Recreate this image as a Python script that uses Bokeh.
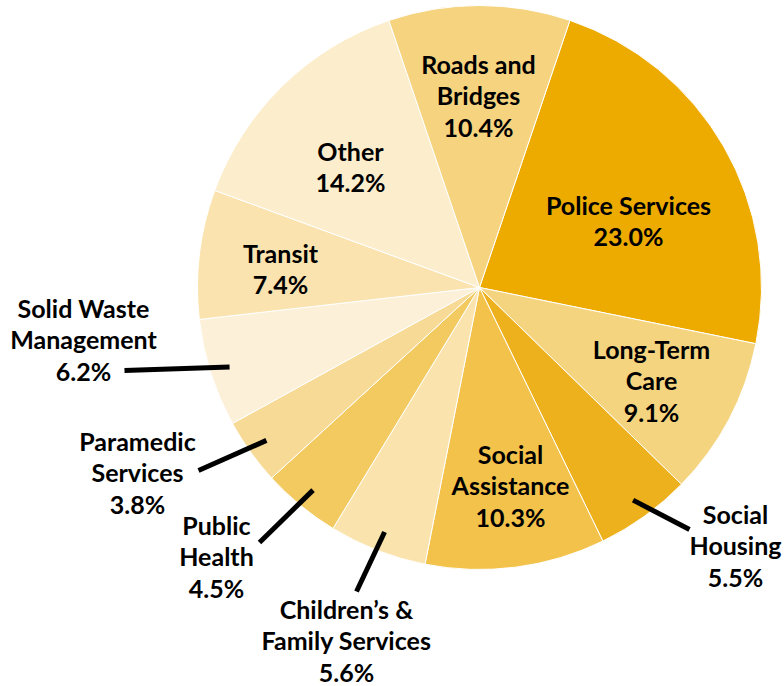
import numpy as np
from bokeh.plotting import figure
from bokeh.models import ColumnDataSource, Range1d
from bokeh.core.properties import value
from bokeh.embed import file_html
from bokeh.resources import INLINE

# ---- data ----
categories = ["Police Services", "Long-Term Care", "Social Housing", "Social Assistance",
              "Children\u2019s & Family Services", "Public Health", "Paramedic Services",
              "Solid Waste Management", "Transit", "Other", "Roads and Bridges"]
shares = [23.0, 9.1, 5.5, 10.3, 5.6, 4.5, 3.8, 6.2, 7.4, 14.2, 10.4]
label_lines = ["Police Services", "Long-Term\nCare", "Social\nHousing", "Social\nAssistance",
               "Children\u2019s &\nFamily Services", "Public\nHealth", "Paramedic\nServices",
               "Solid Waste\nManagement", "Transit", "Other", "Roads and\nBridges"]
colors = ["#EDAB00", "#F5D47F", "#EEB11E", "#F3C24B", "#FAE3AC", "#F2CA60", "#F6DA96",
          "#FCF0D9", "#FAE3AE", "#FCEDCD", "#F5D37F"]

# ---- layout (screen px from top-left of page) ----
W, H = 784, 686
cx, cy, R = 479, H - 287, 282
start_deg = 18.7  # clockwise from 12 o'clock

# label centres (screen coords) and leader end points
label_pos = [(628, 220), (651, 380), (735, 545), (510, 485), (346, 640), (216, 556),
             (137, 472), (83, 339), (280, 268), (350, 166), (478, 95)]
leader_end = [None, None, (689, 529), None, (356, 591), (259, 542), (198, 470),
              (124, 370), None, None, None]

shares_arr = np.array(shares)
cum = np.concatenate([[0], np.cumsum(shares_arr)]) / shares_arr.sum() * 360.0
theta0 = start_deg + cum[:-1]
theta1 = start_deg + cum[1:]
mid = (theta0 + theta1) / 2

src = ColumnDataSource(dict(
    start=90 - theta0, end=90 - theta1, color=colors, name=categories,
))

p = figure(width=W, height=H, output_backend="svg", toolbar_location=None,
           x_range=Range1d(0, W), y_range=Range1d(0, H),
           min_border=0, outline_line_color=None)
p.axis.visible = False
p.grid.visible = False
p.background_fill_color = "white"

p.wedge(x=cx, y=cy, radius=R, start_angle="start", end_angle="end",
        start_angle_units="deg", end_angle_units="deg", direction="clock",
        fill_color="color", line_color="white", line_width=1, source=src)

# leader lines
xs, ys = [], []
for i, e in enumerate(leader_end):
    if e is None:
        continue
    a = np.deg2rad(90 - mid[i])
    x0 = cx + 0.93 * R * np.cos(a)
    y0 = cy + 0.93 * R * np.sin(a)
    xs.append([x0, e[0]])
    ys.append([y0, H - e[1]])
p.multi_line(xs, ys, line_color="black", line_width=5)

texts = [f"{l}\n{s:.1f}%" for l, s in zip(label_lines, shares)]
tsrc = ColumnDataSource(dict(x=[lp[0] for lp in label_pos], y=[H - lp[1] for lp in label_pos],
                             text=texts))
p.text(x="x", y="y", text="text", source=tsrc, text_align="center", text_baseline="middle",
       text_font=value("Lato"), text_font_style="bold",
       text_font_size="25px", text_line_height=1.06, text_color="black")

open("out.html", "w").write(file_html(p, INLINE))
